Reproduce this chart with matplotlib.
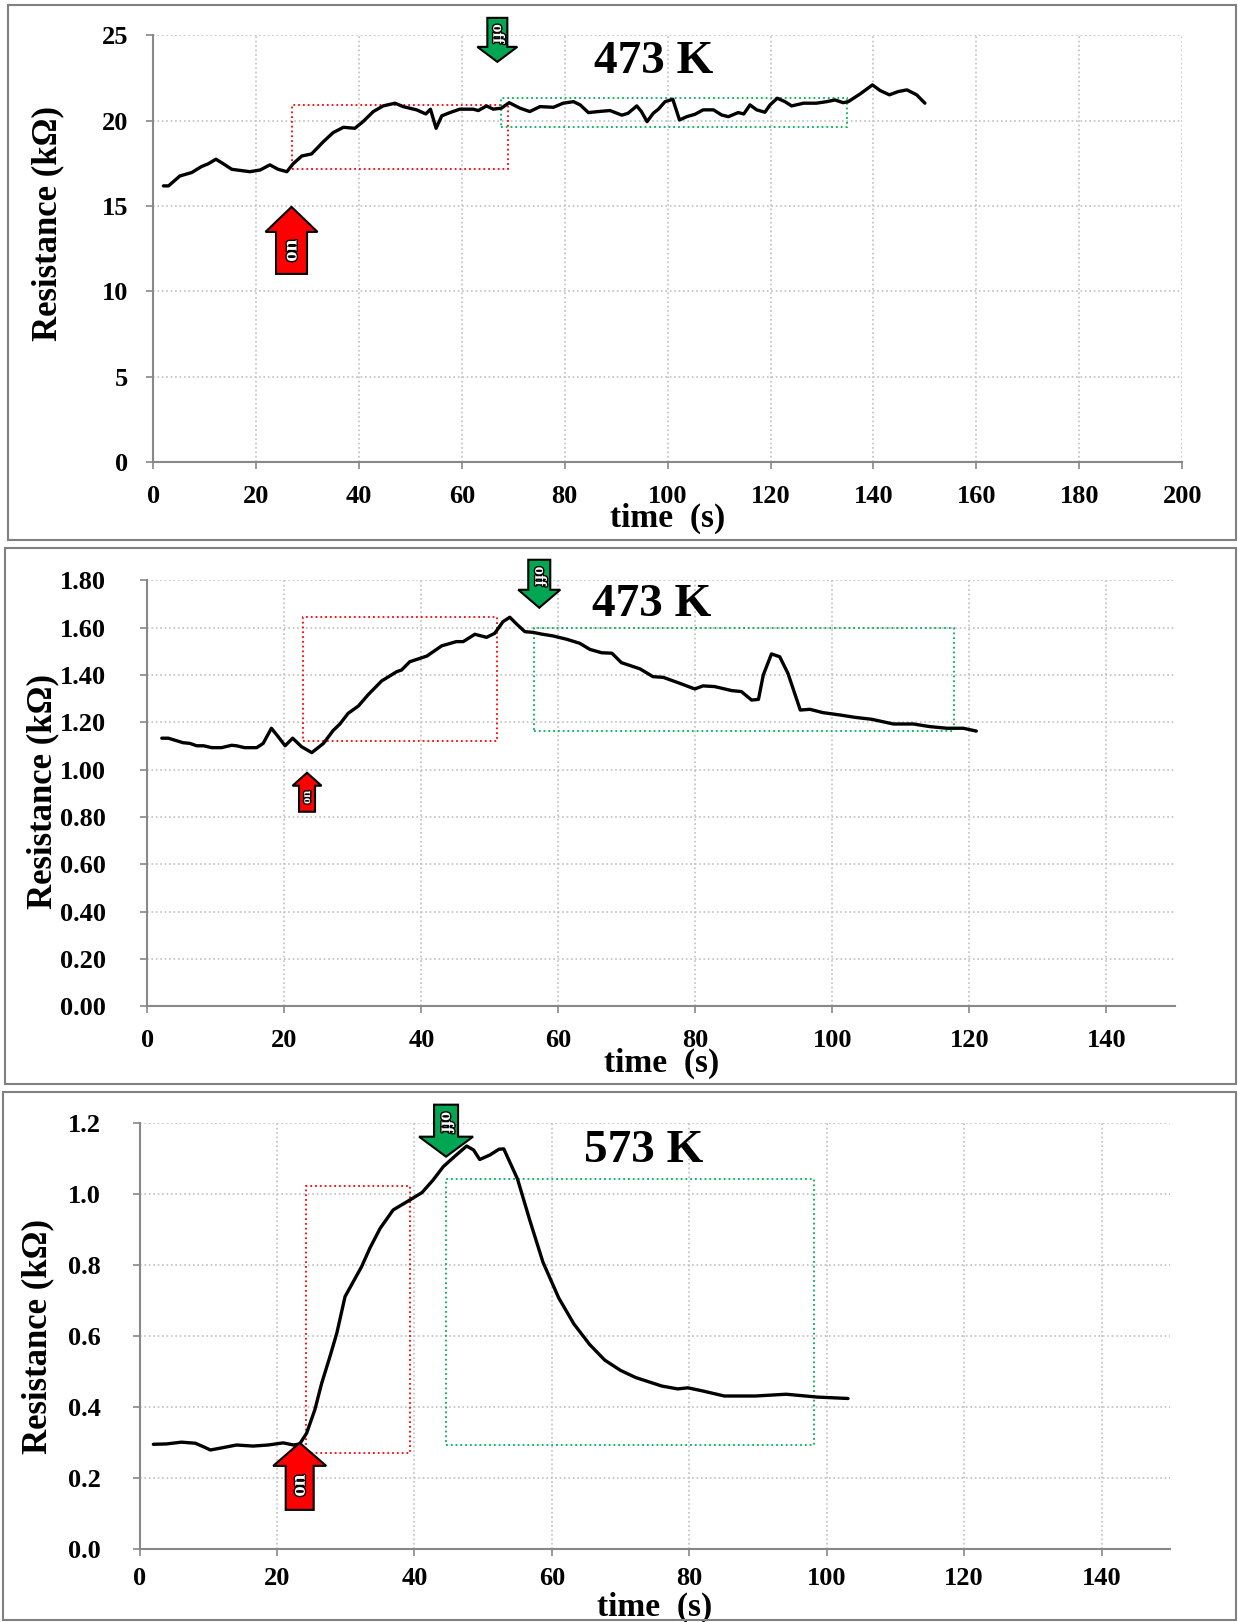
import numpy as np
import matplotlib.pyplot as plt
from matplotlib.patches import Polygon, Rectangle
from matplotlib.transforms import IdentityTransform
import matplotlib.patheffects as pe

plt.rcParams['font.family'] = ['Liberation Serif', 'DejaVu Serif']
plt.rcParams['font.weight'] = 'bold'

# ---- panel 1 : 473 K (kOhm) ----
t1 = [2.0, 3.0, 5.2, 7.5, 9.4, 10.7, 12.2, 13.3, 15.3, 18.8, 20.8, 22.7, 24.3, 26.0,
      27.2, 28.9, 30.8, 33.1, 35.0, 37.0, 39.2, 40.8, 42.8, 44.7, 47.0, 48.6, 51.2,
      53.0, 53.9, 55.0, 56.1, 57.7, 59.6, 62.2, 63.2, 64.8, 66.1, 67.7, 69.2, 71.3,
      73.2, 75.2, 77.8, 79.7, 81.7, 83.0, 84.6, 86.5, 88.8, 91.1, 92.3, 94.0, 94.9,
      96.0, 97.2, 98.2, 99.5, 101.0, 102.3, 103.7, 105.3, 106.9, 108.9, 110.5, 111.8,
      113.7, 114.8, 116.0, 117.3, 118.9, 119.9, 121.3, 122.8, 124.1, 126.4, 128.9,
      130.9, 132.5, 134.1, 135.1, 137.4, 139.8, 141.3, 143.1, 144.8, 146.5, 148.4, 150.0]
r1 = [16.18, 16.18, 16.76, 16.96, 17.31, 17.47, 17.74, 17.54, 17.15, 17.01, 17.11, 17.41,
      17.15, 17.01, 17.47, 17.93, 18.05, 18.77, 19.30, 19.61, 19.55, 19.94, 20.53, 20.86,
      21.02, 20.82, 20.63, 20.39, 20.67, 19.55, 20.28, 20.47, 20.67, 20.67, 20.59, 20.86,
      20.67, 20.73, 21.05, 20.73, 20.53, 20.82, 20.78, 21.02, 21.11, 20.92, 20.47, 20.53,
      20.59, 20.32, 20.43, 20.86, 20.53, 19.94, 20.43, 20.67, 21.11, 21.25, 20.04, 20.23,
      20.37, 20.63, 20.63, 20.33, 20.23, 20.47, 20.39, 20.92, 20.63, 20.49, 20.92, 21.31,
      21.11, 20.86, 21.02, 21.02, 21.11, 21.21, 21.05, 21.11, 21.56, 22.09, 21.76, 21.51,
      21.70, 21.80, 21.51, 21.02]

# ---- panel 2 : 473 K ----
t2 = [2.1, 3.05, 5.2, 6.2, 7.2, 8.2, 9.4, 10.8, 12.3, 13.0, 14.2, 15.95, 16.9, 18.1,
      19.1, 20.1, 21.2, 22.5, 24.0, 25.7, 27.1, 28.1, 29.3, 30.8, 32.2, 34.2, 36.4, 37.1,
      38.3, 40.8, 42.95, 45.1, 46.1, 47.8, 49.5, 50.7, 51.9, 52.9, 53.9, 55.1, 56.3, 57.5,
      59.2, 61.2, 63.1, 64.6, 66.3, 67.8, 69.2, 71.9, 73.8, 75.3, 77.7, 79.9, 81.1, 82.8,
      85.3, 86.7, 88.2, 89.2, 89.9, 91.1, 92.3, 93.5, 95.3, 96.7, 98.6, 101.1, 103.3,
      105.7, 108.9, 111.8, 114.2, 116.7, 119.1, 121.0]
r2 = [1.133, 1.133, 1.114, 1.111, 1.101, 1.101, 1.093, 1.093, 1.103, 1.101, 1.093, 1.093,
      1.111, 1.175, 1.139, 1.101, 1.133, 1.097, 1.072, 1.111, 1.165, 1.193, 1.238, 1.269,
      1.316, 1.375, 1.414, 1.421, 1.456, 1.480, 1.523, 1.541, 1.541, 1.572, 1.559, 1.576,
      1.625, 1.644, 1.615, 1.583, 1.580, 1.573, 1.565, 1.551, 1.534, 1.508, 1.494, 1.492,
      1.452, 1.426, 1.393, 1.390, 1.365, 1.341, 1.354, 1.351, 1.334, 1.330, 1.294, 1.297,
      1.400, 1.489, 1.477, 1.407, 1.252, 1.255, 1.241, 1.231, 1.221, 1.213, 1.193, 1.193,
      1.182, 1.175, 1.175, 1.163]

# ---- panel 3 : 573 K ----
t3 = [2.0, 3.9, 6.1, 8.1, 9.3, 10.3, 11.7, 14.1, 16.5, 18.7, 20.9, 22.4, 23.3, 24.3,
      25.5, 26.5, 27.7, 28.7, 29.9, 31.1, 32.3, 33.5, 35.0, 36.9, 38.9, 41.1, 42.7, 44.2,
      46.1, 47.6, 48.6, 49.5, 51.0, 52.3, 53.0, 55.0, 56.8, 58.7, 61.0, 63.2, 65.5, 67.7,
      70.0, 72.2, 76.0, 78.3, 79.8, 82.0, 85.1, 89.6, 94.1, 98.6, 103.1]
r3 = [0.296, 0.297, 0.302, 0.299, 0.289, 0.280, 0.285, 0.294, 0.291, 0.294, 0.300, 0.294,
      0.297, 0.327, 0.393, 0.468, 0.543, 0.609, 0.712, 0.754, 0.796, 0.848, 0.904, 0.956,
      0.979, 1.005, 1.040, 1.078, 1.111, 1.136, 1.125, 1.098, 1.111, 1.127, 1.128, 1.043,
      0.926, 0.809, 0.708, 0.635, 0.577, 0.533, 0.504, 0.484, 0.460, 0.452, 0.455, 0.446,
      0.432, 0.432, 0.437, 0.429, 0.425]

# boxes: (t0, t1, r0, r1)
red_box = [(26.9, 69.0, 17.15, 20.92), (22.7, 51.1, 1.121, 1.646), (24.2, 39.3, 0.272, 1.023)]
green_box = [(67.7, 134.9, 19.65, 21.31), (56.5, 117.8, 1.165, 1.600), (44.6, 98.1, 0.294, 1.043)]
# arrow tips (t, r)
on_tip = [(26.9, 14.95), (23.3, 0.987), (23.3, 0.300)]
off_tip = [(66.9, 23.44), (57.2, 1.684), (44.6, 1.106)]
titles = ['473 K', '473 K', '573 K']

W, H = 1238, 1622
fig = plt.figure(figsize=(W / 100, H / 100), dpi=100)

# panel frames (figure coords)
for x0, y0, x1, y1 in [(8, 5, 1236, 540), (5, 548, 1236, 1084), (3, 1092, 1236, 1620)]:
    fig.patches.append(Rectangle((x0 / W, 1 - y1 / H), (x1 - x0) / W, (y1 - y0) / H,
                                 transform=fig.transFigure, fill=False,
                                 edgecolor='#808080', lw=1.5))

axpos = [(153.1, 35.2, 1182.2, 462.3), (147.4, 580.3, 1175.0, 1006.4),
         (139.6, 1123.3, 1170.3, 1549.4)]
axes = [fig.add_axes([l / W, 1 - b / H, (r - l) / W, (b - t) / H]) for l, t, r, b in axpos]

cfg = [
    dict(xlim=(0, 200), xt=np.arange(0, 201, 20), ylim=(0, 25), yt=np.arange(0, 26, 5),
         fmt='{:.0f}', ypad=13, xpad=11, ylab=(-0.102, 0.56), xlab=-0.132, tpos=(0.486, 0.937)),
    dict(xlim=(0, 150), xt=np.arange(0, 141, 20), ylim=(0, 1.8), yt=np.arange(0, 1.81, 0.2),
         fmt='{:.2f}', ypad=25, xpad=11, ylab=(-0.102, 0.505), xlab=-0.134, tpos=(0.491, 0.942)),
    dict(xlim=(0, 150), xt=np.arange(0, 141, 20), ylim=(0, 1.2), yt=np.arange(0, 1.21, 0.2),
         fmt='{:.1f}', ypad=23, xpad=8, ylab=(-0.099, 0.50), xlab=-0.135, tpos=(0.489, 0.935)),
]
data = [(t1, r1), (t2, r2), (t3, r3)]

# arrow geometry in pixels: head length, total length, head width, shaft width, font size
on_geom = [(25, 67, 52, 31, 15), (13, 39, 29, 16, 9), (23, 67, 53, 28, 15)]
off_geom = [(15, 44, 40, 20, 12), (18, 48, 42, 22, 12), (20, 52, 54, 24, 13)]


def arrow(ax, tip, geom, color, label, up):
    hl, L, hw, sw, fs = geom
    px, py = ax.transData.transform(tip)
    d = -1 if up else 1
    verts = [(px, py), (px + hw / 2, py + d * hl), (px + sw / 2, py + d * hl),
             (px + sw / 2, py + d * L), (px - sw / 2, py + d * L),
             (px - sw / 2, py + d * hl), (px - hw / 2, py + d * hl)]
    ax.add_patch(Polygon(verts, closed=True, facecolor=color, edgecolor='black', lw=1.5,
                         transform=IdentityTransform(), clip_on=False, zorder=5))
    ax.text(px, py + d * (hl + (L - hl) * 0.45), label, transform=IdentityTransform(),
            rotation=90 if up else -90, ha='center', va='center', fontsize=fs,
            color='white', zorder=6,
            path_effects=[pe.withStroke(linewidth=2, foreground='black')])


for i, ax in enumerate(axes):
    c = cfg[i]
    ax.set_xlim(*c['xlim'])
    ax.set_ylim(*c['ylim'])
    ax.set_xticks(c['xt'])
    ax.set_yticks(c['yt'])
    ax.set_yticklabels([c['fmt'].format(v) for v in c['yt']])
    ax.grid(True, linestyle=':', color='#c0c0c0', lw=1.2)
    ax.set_axisbelow(True)
    for s in ['top', 'right']:
        ax.spines[s].set_visible(False)
    for s in ['left', 'bottom']:
        ax.spines[s].set_color('#888888')
        ax.spines[s].set_linewidth(1.5)
    ax.tick_params(axis='both', direction='out', length=5, width=1.2, color='#888888',
                   labelsize=19)
    ax.tick_params(axis='y', pad=c['ypad'])
    ax.tick_params(axis='x', pad=c['xpad'])

    tt, rr = data[i]
    ax.plot(tt, rr, color='black', lw=2.4, zorder=4,
            solid_joinstyle='round', solid_capstyle='round')

    x0, x1, y0, y1 = red_box[i]
    ax.add_patch(Rectangle((x0, y0), x1 - x0, y1 - y0, fill=False, edgecolor='#ff0000',
                           lw=1.3, linestyle=':', zorder=3))
    x0, x1, y0, y1 = green_box[i]
    ax.add_patch(Rectangle((x0, y0), x1 - x0, y1 - y0, fill=False, edgecolor='#00b050',
                           lw=1.3, linestyle=':', zorder=3))

    ax.set_ylabel('Resistance (k\u03a9)', fontsize=25, fontweight='bold')
    ax.yaxis.set_label_coords(*c['ylab'])
    ax.yaxis.label.set_verticalalignment('center')
    ax.set_xlabel('time  (s)', fontsize=24, fontweight='bold')
    ax.xaxis.set_label_coords(0.5, c['xlab'])
    ax.xaxis.label.set_verticalalignment('center')

    ax.text(*c['tpos'], titles[i], transform=ax.transAxes, ha='center', va='center',
            fontsize=34, fontweight='bold')

    arrow(ax, on_tip[i], on_geom[i], '#ff0000', 'on', True)
    arrow(ax, off_tip[i], off_geom[i], '#00a651', 'off', False)

fig.savefig('out.png', dpi=100)
